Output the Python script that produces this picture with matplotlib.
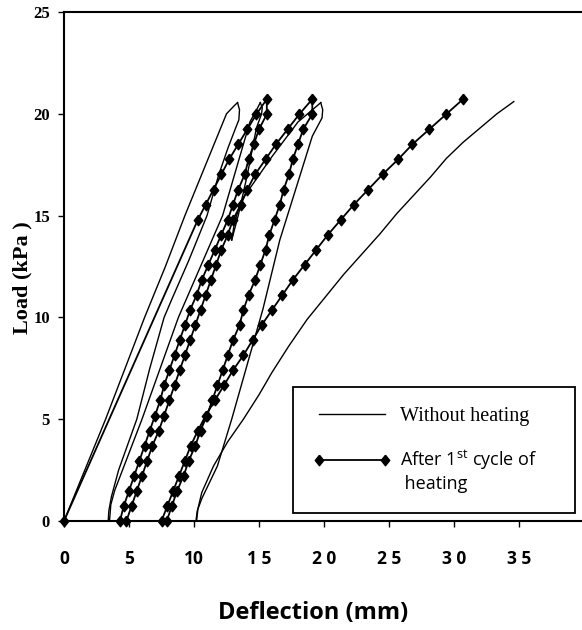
import matplotlib
matplotlib.use("Agg")
import matplotlib.pyplot as plt

plt.rcParams['mathtext.fontset'] = 'custom'
plt.rcParams['mathtext.rm'] = 'Open Sans'

# load levels of the heated test (kPa), one per reading
loads = [0.0, 0.74, 1.48, 2.22, 2.96, 3.70, 4.44, 5.18, 5.92, 6.66, 7.40, 8.14,
         8.88, 9.62, 10.36, 11.10, 11.84, 12.58, 13.32, 14.06, 14.80, 15.54,
         16.28, 17.02, 17.76, 18.50, 19.24, 19.98, 20.72]

# after 1st cycle of heating: deflection (mm) per branch
heat_load1_x = [0.0, 10.3, 10.9, 11.5, 12.1, 12.7, 13.4, 14.1, 14.8, 15.6]
heat_load1_y = [0.0] + loads[20:]
heat_unload1_x = [15.6, 15.0, 14.6, 14.2, 13.9, 13.4, 13.0, 12.6, 12.1, 11.6,
                  11.1, 10.6, 10.2, 9.7, 9.3, 8.9, 8.5, 8.1, 7.7, 7.4, 7.0,
                  6.6, 6.2, 5.8, 5.4, 5.0, 4.6, 4.3]
heat_load2_x = [4.8, 5.2, 5.6, 6.0, 6.4, 6.8, 7.3, 7.7, 8.1, 8.5, 8.9, 9.3,
                9.7, 10.1, 10.5, 10.9, 11.3, 11.7, 12.1, 12.6, 13.0, 13.6,
                14.1, 14.7, 15.5, 16.3, 17.2, 18.1, 19.1]
heat_unload2_x = [19.1, 18.4, 18.0, 17.6, 17.3, 16.9, 16.6, 16.2, 15.8, 15.5,
                  15.1, 14.7, 14.2, 13.8, 13.5, 13.0, 12.6, 12.2, 11.8, 11.4,
                  11.0, 10.5, 10.1, 9.6, 9.2, 8.7, 8.3, 7.9]
heat_load3_x = [7.5, 7.95, 8.4, 8.85, 9.3, 9.75, 10.3, 10.9, 11.6, 12.3, 13.0,
                13.8, 14.5, 15.2, 16.0, 16.8, 17.6, 18.5, 19.4, 20.3, 21.3,
                22.3, 23.4, 24.5, 25.7, 26.8, 28.1, 29.4, 30.7]

# without heating: load/unload curves (deflection mm, load kPa)
nh_curves = [
    ([0.0, 1.6, 3.2, 4.7, 6.2, 7.8, 9.3, 10.9, 12.5, 13.1, 13.35],
     [0.0, 2.5, 5.0, 7.5, 10.0, 12.5, 15.0, 17.5, 20.0, 20.4, 20.55]),
    ([13.35, 13.5, 13.45, 13.2, 12.6, 11.9, 11.0, 9.6, 8.3, 7.7, 6.6, 5.6, 4.2, 3.65, 3.45, 3.4],
     [20.55, 20.2, 19.7, 19.3, 18.3, 17.0, 15.0, 12.8, 10.9, 10.0, 7.5, 5.0, 2.5, 1.2, 0.5, 0.0]),
    ([3.5, 3.6, 3.9, 6.0, 8.8, 12.2, 14.3, 14.9, 15.1],
     [0.0, 0.8, 1.5, 5.0, 10.0, 15.0, 19.6, 20.3, 20.55]),
    ([15.1, 15.25, 15.2, 14.8, 14.1, 13.4, 12.9],
     [20.55, 20.3, 20.0, 19.3, 17.0, 15.0, 13.8]),
    ([12.9, 13.1, 13.6, 16.0, 18.0, 19.3, 19.75],
     [13.8, 14.6, 15.7, 17.9, 19.6, 20.3, 20.55]),
    ([19.75, 19.9, 19.85, 19.1, 16.6, 15.3, 12.9, 11.8, 10.6, 10.25, 10.15],
     [20.55, 20.2, 19.8, 18.9, 13.8, 10.4, 5.0, 2.7, 1.1, 0.5, 0.0]),
    ([10.2, 10.3, 10.6, 11.5, 12.6, 13.8, 15.0, 16.0, 17.3, 18.7, 20.1, 21.5,
      22.9, 24.3, 25.6, 26.9, 28.2, 29.4, 30.7, 32.0, 33.3, 34.6],
     [0.0, 0.6, 1.4, 2.7, 3.9, 5.0, 6.2, 7.3, 8.6, 9.9, 11.0, 12.1,
      13.1, 14.1, 15.1, 16.0, 16.9, 17.8, 18.6, 19.3, 20.0, 20.6]),
]

x_ticks = [0, 5, 10, 15, 20, 25, 30, 35]
x_ticklabels = ['0', '5', '10', '1 5', '2 0', '2 5', '3 0', '3 5']
y_ticks = [0, 5, 10, 15, 20, 25]

heat_x = heat_load1_x + heat_unload1_x + heat_load2_x + heat_unload2_x + heat_load3_x
heat_y = (heat_load1_y + loads[27::-1] + loads + loads[27::-1] + loads)

diamond = [(0, 1), (0.8, 0), (0, -1), (-0.8, 0), (0, 1)]

fig = plt.figure(figsize=(5.82, 6.30), dpi=100)
ax = fig.add_axes([64 / 582, 109 / 630, 520 / 582, 509 / 630])

h_no = None
for cx, cy in nh_curves:
    ln, = ax.plot(cx, cy, color='black', lw=1.0, clip_on=False)
    if h_no is None:
        h_no = ln

h_heat, = ax.plot(heat_x, heat_y, color='black', lw=1.3, marker=diamond,
                  ms=7.6, mfc='black', mec='black', clip_on=False, zorder=3)

ax.set_xlim(0, 40)
ax.set_ylim(0, 25)
ax.spines['right'].set_visible(False)
for s in ['top', 'left', 'bottom']:
    ax.spines[s].set_linewidth(1.5)

ax.set_xticks(x_ticks)
ax.set_xticklabels(x_ticklabels, fontfamily='Open Sans', fontweight='bold', fontsize=12.5)
ax.set_yticks(y_ticks)
ax.set_yticklabels([str(v) for v in y_ticks], fontfamily='Liberation Serif',
                   fontweight='bold', fontsize=12)
ax.tick_params(axis='x', direction='out', length=4, width=1, pad=17)
ax.tick_params(axis='y', direction='out', length=4, width=1, pad=6)

fig.text(22 / 582, 0.559, 'Load (kPa )', rotation=90, ha='center', va='center',
         fontfamily='Liberation Serif', fontweight='bold', fontsize=16)
fig.text(313 / 582, 0.027, 'Deflection (mm)', ha='center', va='center',
         fontfamily='Open Sans', fontweight='bold', fontsize=17)

leg = ax.legend([h_no, h_heat],
                ['Without heating', '\nAfter 1$^{\\rm st}$ cycle of\n heating'],
                loc='lower left', bbox_to_anchor=(0.44, 0.0157, 0.543, 0.265),
                mode='expand', borderaxespad=0, fancybox=False, framealpha=1,
                edgecolor='black', borderpad=1.0, labelspacing=0.0,
                handlelength=3.9, handletextpad=0.4, numpoints=2,
                prop={'family': 'Liberation Serif', 'size': 14.5})
leg.get_frame().set_linewidth(1.3)
t2 = leg.get_texts()[1]
t2.set_fontfamily('Open Sans')
t2.set_fontsize(13)

fig.savefig('out.png', dpi=100)
